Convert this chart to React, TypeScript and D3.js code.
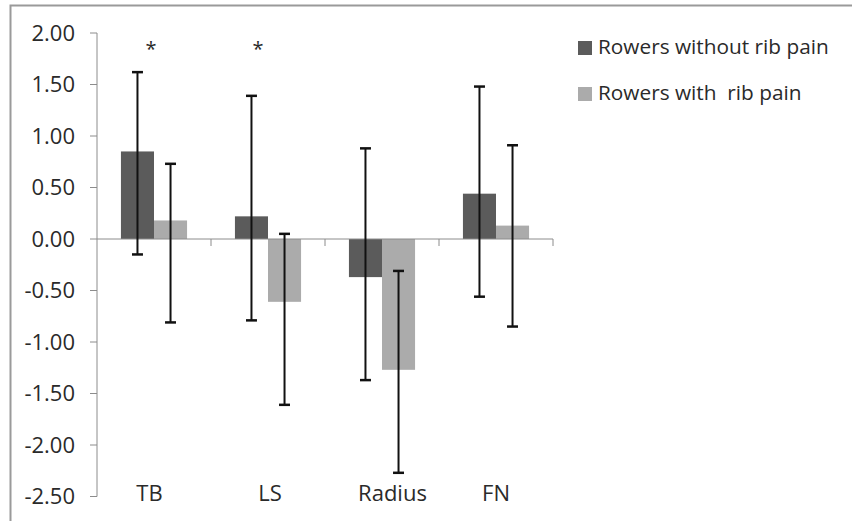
import React from "react";
import * as d3 from "d3";

const categories = ["TB", "LS", "Radius", "FN"];
const seriesNames = ["Rowers without rib pain", "Rowers with  rib pain"];
const withoutPain = [0.85, 0.22, -0.37, 0.44];
const withPain = [0.18, -0.61, -1.27, 0.13];
const withoutPainErrLow = [-0.15, -0.79, -1.37, -0.56];
const withoutPainErrHigh = [1.62, 1.39, 0.88, 1.48];
const withPainErrLow = [-0.81, -1.61, -2.27, -0.85];
const withPainErrHigh = [0.73, 0.05, -0.31, 0.91];
const yTicks = [2.0, 1.5, 1.0, 0.5, 0.0, -0.5, -1.0, -1.5, -2.0, -2.5];
const significant = ["TB", "LS"];
const colors = ["#5b5b5b", "#ababab"];

const W = 852;
const H = 521;
const FONT = "'Open Sans', sans-serif";

export default function App() {
  const x = d3.scaleBand<string>().domain(categories).range([97, 553]).paddingInner(0).paddingOuter(0);
  const y = d3.scaleLinear().domain([-2.5, 2.0]).range([496.5, 33]);
  const groupW = x.bandwidth() * 0.58;
  const x1 = d3.scaleBand<number>().domain([0, 1]).range([0, groupW]);
  const series = [
    { values: withoutPain, lo: withoutPainErrLow, hi: withoutPainErrHigh },
    { values: withPain, lo: withPainErrLow, hi: withPainErrHigh },
  ];
  const bx = (c: string, s: number) => (x(c) as number) + x.bandwidth() / 2 - groupW / 2 + (x1(s) as number);
  const y0 = y(0);
  const asteriskOffset = [-3, -10];
  const labelOffset = [-4.5, 2, 10.5, 0];
  const fmt = (t: number) => d3.format(".2f")(t).replace("\u2212", "-");

  return (
    <svg width={W} height={H} style={{ position: "absolute", left: 0, top: 0, background: "#fff" }}>
      <rect x={10.5} y={5.5} width={W} height={H} fill="#fff" stroke="#9a9a9a" strokeWidth={2} />
      {/* y axis */}
      <line x1={97} x2={97} y1={y(2)} y2={y(-2.5)} stroke="#8c8c8c" strokeWidth={1} />
      {yTicks.map((t) => (
        <g key={t}>
          <line x1={90} x2={97} y1={y(t)} y2={y(t)} stroke="#8c8c8c" strokeWidth={1} />
          <text x={75} y={y(t)} dy="0.36em" textAnchor="end" fontFamily={FONT} fontSize={22} fill="#2a2a2a">
            {fmt(t)}
          </text>
        </g>
      ))}
      {/* bars */}
      {series.map((s, si) =>
        categories.map((c, ci) => (
          <rect
            key={`${si}-${c}`}
            x={bx(c, si)}
            width={x1.bandwidth()}
            y={Math.min(y(s.values[ci]), y0)}
            height={Math.abs(y(s.values[ci]) - y0)}
            fill={colors[si]}
          />
        ))
      )}
      {/* x axis */}
      <line x1={97} x2={553} y1={y0} y2={y0} stroke="#8c8c8c" strokeWidth={1} />
      {categories.map((c) => (
        <line key={c} x1={(x(c) as number) + x.bandwidth()} x2={(x(c) as number) + x.bandwidth()} y1={y0} y2={y0 + 7} stroke="#8c8c8c" />
      ))}
      {/* error bars */}
      {series.map((s, si) =>
        categories.map((c, ci) => {
          const cx = bx(c, si) + x1.bandwidth() / 2;
          return (
            <g key={`e-${si}-${c}`} stroke="#111" strokeWidth={2}>
              <line x1={cx} x2={cx} y1={y(s.hi[ci])} y2={y(s.lo[ci])} />
              <line x1={cx - 5.5} x2={cx + 5.5} y1={y(s.hi[ci])} y2={y(s.hi[ci])} strokeWidth={2.5} />
              <line x1={cx - 5.5} x2={cx + 5.5} y1={y(s.lo[ci])} y2={y(s.lo[ci])} strokeWidth={2.5} />
            </g>
          );
        })
      )}
      {/* significance */}
      {significant.map((c, i) => (
        <text key={c} x={(x(c) as number) + x.bandwidth() / 2 + asteriskOffset[i]} y={y(1.78)} textAnchor="middle" fontFamily={FONT} fontSize={20} fill="#2a2a2a">
          *
        </text>
      ))}
      {/* category labels */}
      {categories.map((c, i) => (
        <text key={c} x={(x(c) as number) + x.bandwidth() / 2 + labelOffset[i]} y={501} textAnchor="middle" fontFamily={FONT} fontSize={22} fill="#2a2a2a">
          {c}
        </text>
      ))}
      {/* legend */}
      {seriesNames.map((n, i) => (
        <g key={n} transform={`translate(578, ${41 + i * 46})`}>
          <rect x={0} y={0} width={14} height={14} fill={colors[i]} />
          <text x={20} y={12.5} fontFamily={FONT} fontSize={20.8} fill="#2a2a2a" style={{ whiteSpace: "pre" }}>
            {n}
          </text>
        </g>
      ))}
    </svg>
  );
}
